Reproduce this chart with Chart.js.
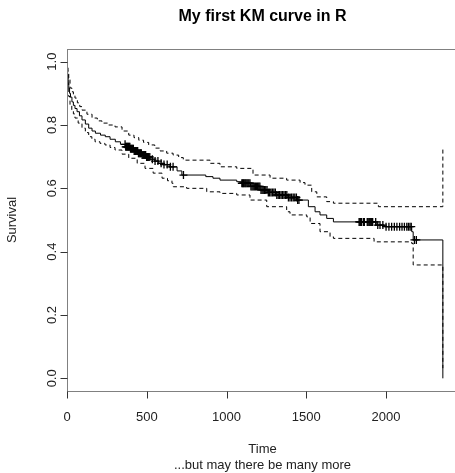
<!DOCTYPE html>
<html>
<head>
<meta charset="utf-8">
<script src="https://cdn.jsdelivr.net/npm/chart.js@4"></script>
<style>
  html, body { margin: 0; padding: 0; background: #fff; }
  #wrap { width: 455px; height: 473px; overflow: hidden; }
  canvas { display: block; }
</style>
</head>
<body>
<div id="wrap"><canvas id="km" width="470" height="473"></canvas></div>
<script>
// Kaplan-Meier estimate (time, survival after event)
const kmTime = [0, 2, 4, 7, 11, 16, 22, 31, 40, 50, 63, 78, 94, 115, 136, 157, 178, 210, 240, 270, 303, 335,
  365, 395, 420, 445, 470, 495, 520, 548, 575, 600, 640, 690, 720,
  870, 915, 959, 1064, 1095, 1150, 1210, 1260, 1315, 1380, 1440, 1513, 1555, 1586, 1628, 1670,
  1942, 1990, 2161, 2170, 2356];
const kmSurv = [1.0, 0.98, 0.96, 0.94, 0.917, 0.90, 0.888, 0.873, 0.862, 0.852, 0.842, 0.829, 0.816, 0.803, 0.790, 0.781, 0.774, 0.768, 0.763, 0.755, 0.747, 0.739,
  0.731, 0.725, 0.718, 0.711, 0.705, 0.699, 0.692, 0.686, 0.679, 0.675, 0.668, 0.655, 0.642,
  0.637, 0.632, 0.626, 0.621, 0.616, 0.606, 0.595, 0.587, 0.579, 0.571, 0.563, 0.542, 0.526, 0.516, 0.505, 0.494,
  0.484, 0.479, 0.463, 0.437, 0.0];

// 95% confidence band
const upTime = [0, 3, 6, 11, 19, 30, 40, 50, 65, 80, 94, 125, 157, 190, 219, 260, 301, 345, 387, 420, 450, 480,
  512, 550, 583, 625, 665, 700, 729, 897, 959, 1064,
  1166, 1273, 1377, 1461, 1492, 1534, 1566, 1628, 1670, 1952, 2356];
const upSurv = [1.0, 0.99, 0.97, 0.95, 0.917, 0.905, 0.895, 0.885, 0.870, 0.858, 0.847, 0.834, 0.822, 0.813, 0.806, 0.800, 0.794, 0.781, 0.768, 0.760, 0.752, 0.745,
  0.737, 0.727, 0.718, 0.711, 0.705, 0.697, 0.689, 0.679, 0.668, 0.663,
  0.642, 0.632, 0.626, 0.618, 0.610, 0.589, 0.573, 0.558, 0.553, 0.542, 0.731];
const loTime = [0, 3, 6, 11, 19, 30, 40, 50, 70, 94, 115, 136, 156, 176, 207, 238, 270, 301, 345, 387, 440, 489,
  540, 596, 630, 658, 666, 750, 876, 959, 1064,
  1147, 1252, 1377, 1398, 1503, 1524, 1586, 1649, 1670, 1925, 2161, 2170, 2356];
const loSurv = [1.0, 0.96, 0.93, 0.89, 0.863, 0.848, 0.835, 0.822, 0.806, 0.790, 0.776, 0.763, 0.755, 0.747, 0.742, 0.737, 0.729, 0.721, 0.708, 0.695, 0.679, 0.663,
  0.648, 0.632, 0.624, 0.616, 0.605, 0.600, 0.589, 0.584, 0.579,
  0.563, 0.542, 0.526, 0.516, 0.510, 0.489, 0.463, 0.447, 0.442, 0.431, 0.426, 0.358, 0.032];

// censored observations
const censorTime = [364, 368, 372, 377, 381, 385, 390, 394, 398, 403, 407, 412, 416, 421, 425, 430, 434, 439,
  443, 448, 452, 457, 461, 466, 471, 476, 481, 487, 493, 499, 505, 512, 519,
  535, 552, 570, 590, 608, 628, 648, 665, 730,
  1096, 1101, 1106, 1111, 1117, 1122, 1128, 1134, 1140, 1147, 1153, 1160, 1167, 1174, 1181, 1188, 1195,
  1202, 1209, 1216, 1223, 1230, 1238, 1246, 1254, 1262, 1270, 1279, 1288, 1297, 1306, 1315, 1324, 1333,
  1342, 1351, 1360, 1369, 1378, 1388, 1398, 1408, 1418, 1428, 1438, 1446, 1454,
  1831, 1836, 1841, 1846, 1858, 1864, 1882, 1887, 1893, 1898, 1904, 1910, 1916, 1935, 1948,
  1962, 1980, 2000, 2018, 2035, 2052, 2068, 2085, 2100, 2115, 2130, 2140, 2150, 2158, 2178, 2190];

const xTicks = [0, 500, 1000, 1500, 2000];
const yTicks = [0, 0.2, 0.4, 0.6, 0.8, 1.0];
const yTickLabels = ['0.0', '0.2', '0.4', '0.6', '0.8', '1.0'];

function pts(ts, ss) {
  return ts.map((t, i) => ({ x: t, y: ss[i] }));
}

// survival at time t read from the KM step function
function survAt(t) {
  let s = 1;
  for (let i = 0; i < kmTime.length; i++) {
    if (kmTime[i] <= t) s = kmSurv[i];
  }
  return s;
}

const FONT = '"Liberation Sans", Arial, sans-serif';

// R style box, ticks and labels
const rAxes = {
  id: 'rAxes',
  afterDraw(chart) {
    const ctx = chart.ctx;
    const a = chart.chartArea;
    const xs = chart.scales.x, ys = chart.scales.y;
    const L = Math.round(a.left) + 0.5, B = Math.round(a.bottom) + 0.5;
    const cx = (a.left + a.right) / 2;
    ctx.save();

    ctx.strokeStyle = '#808080';
    ctx.lineWidth = 1;
    ctx.strokeRect(L, Math.round(a.top) + 0.5, Math.round(a.right - a.left), Math.round(a.bottom - a.top));

    ctx.strokeStyle = '#333';
    ctx.fillStyle = '#222';
    ctx.font = '13px ' + FONT;
    ctx.textAlign = 'center';
    ctx.textBaseline = 'middle';

    ctx.beginPath();
    xTicks.forEach(v => {
      const px = Math.round(xs.getPixelForValue(v)) + 0.5;
      ctx.moveTo(px, B);
      ctx.lineTo(px, B + 7);
    });
    yTicks.forEach(v => {
      const py = Math.round(ys.getPixelForValue(v)) + 0.5;
      ctx.moveTo(L, py);
      ctx.lineTo(L - 7, py);
    });
    ctx.stroke();

    xTicks.forEach(v => {
      ctx.fillText(String(v), xs.getPixelForValue(v), a.bottom + 26);
    });
    yTicks.forEach((v, i) => {
      ctx.save();
      ctx.translate(a.left - 15, ys.getPixelForValue(v));
      ctx.rotate(-Math.PI / 2);
      ctx.fillText(yTickLabels[i], 0, 0);
      ctx.restore();
    });

    ctx.fillText('Time', cx, a.bottom + 58);
    ctx.fillText('...but may there be many more', cx, a.bottom + 74);

    ctx.save();
    ctx.translate(12, (a.top + a.bottom) / 2);
    ctx.rotate(-Math.PI / 2);
    ctx.fillText('Survival', 0, 0);
    ctx.restore();

    ctx.fillStyle = '#000';
    ctx.font = 'bold 16px ' + FONT;
    ctx.fillText('My first KM curve in R', cx, 17);
    ctx.restore();
  }
};

new Chart(document.getElementById('km'), {
  type: 'line',
  data: {
    datasets: [
      {
        label: 'KM',
        data: pts(kmTime, kmSurv),
        stepped: true,
        borderColor: '#000',
        borderWidth: 1,
        pointRadius: 0
      },
      {
        label: 'upper',
        data: pts(upTime, upSurv),
        stepped: true,
        borderColor: '#000',
        borderWidth: 1,
        borderDash: [4, 3],
        pointRadius: 0
      },
      {
        label: 'lower',
        data: pts(loTime, loSurv),
        stepped: true,
        borderColor: '#000',
        borderWidth: 1,
        borderDash: [4, 3],
        pointRadius: 0
      },
      {
        type: 'scatter',
        label: 'censored',
        data: censorTime.map(t => ({ x: t, y: survAt(t) })),
        showLine: false,
        pointStyle: 'cross',
        pointRadius: 4,
        borderColor: '#000',
        borderWidth: 1.3
      }
    ]
  },
  options: {
    responsive: false,
    animation: false,
    events: [],
    layout: { padding: { left: 67, top: 49, right: 12, bottom: 82 } },
    scales: {
      x: { type: 'linear', min: 0, max: 2451, display: false },
      y: { type: 'linear', min: -0.04, max: 1.04, display: false }
    },
    plugins: {
      legend: { display: false },
      tooltip: { enabled: false }
    }
  },
  plugins: [rAxes]
});
</script>
</body>
</html>
